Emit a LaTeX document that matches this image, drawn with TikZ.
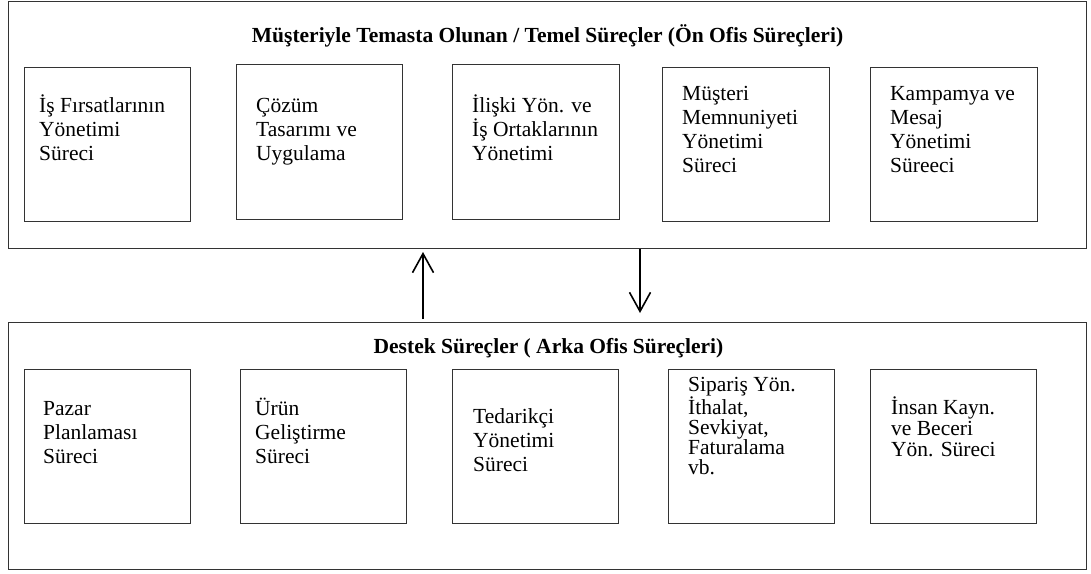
\documentclass[tikz,border=0pt]{standalone}
\usepackage{fontspec}
\setmainfont{Liberation Serif}
\usetikzlibrary{arrows.meta}

\newcommand{\boxtext}[2][24]{\parbox[t]{160pt}{\raggedright\fontsize{21.5}{#1}\selectfont #2}}

\tikzset{
  framebox/.style={draw=black!80, line width=1pt, anchor=north west, inner sep=0pt},
  procbox/.style={draw=black!80, line width=1pt, anchor=north west, inner sep=0pt,
                  minimum width=166pt, minimum height=154pt},
  boxlabel/.style={anchor=base west, inner sep=0pt},
  grouptitle/.style={anchor=base, inner sep=0pt, font=\fontsize{21.5}{24}\selectfont\bfseries},
  flow/.style={line width=1.6pt, -{Straight Barb[length=19pt, width=21pt, line width=1.6pt]}}
}

\begin{document}
\begin{tikzpicture}[x=1pt, y=-1pt]
\useasboundingbox (0,0) rectangle (1091,573);
\fill[white] (0,0) rectangle (1091,573);

% front-office group
\node[framebox, minimum width=1078pt, minimum height=247pt] (front) at (8,1) {};
\node[grouptitle] (fronttitle) at ([shift={(0,41)}]front.north)
  {Müşteriyle Temasta Olunan / Temel Süreçler (Ön Ofis Süreçleri)};

\node[procbox] (f1) at (24,67) {};
\node[procbox, minimum height=155pt] (f2) at (236,64) {};
\node[procbox, minimum width=167pt, minimum height=155pt] (f3) at (452,64) {};
\node[procbox, minimum width=167pt] (f4) at (662,67) {};
\node[procbox, minimum width=167pt] (f5) at (870,67) {};

\node[boxlabel] (f1t) at ([shift={(15,45)}]f1.north west) {\boxtext{İş Fırsatlarının\\Yönetimi\\Süreci}};
\node[boxlabel] (f2t) at ([shift={(20,48)}]f2.north west) {\boxtext{Çözüm\\Tasarımı ve\\Uygulama}};
\node[boxlabel] (f3t) at ([shift={(20,48)}]f3.north west) {\boxtext{İlişki Yön. ve\\İş Ortaklarının\\Yönetimi}};
\node[boxlabel] (f4t) at ([shift={(20,33)}]f4.north west) {\boxtext{Müşteri\\Memnuniyeti\\Yönetimi\\Süreci}};
\node[boxlabel] (f5t) at ([shift={(20,33)}]f5.north west) {\boxtext{Kampamya ve\\Mesaj\\Yönetimi\\Süreeci}};

% back-office group
\node[framebox, minimum width=1078pt, minimum height=247pt] (back) at (8,322) {};
\node[grouptitle] (backtitle) at ([shift={(1,31)}]back.north)
  {Destek Süreçler ( Arka Ofis Süreçleri)};

\node[procbox] (b1) at (24,369) {};
\node[procbox] (b2) at (240,369) {};
\node[procbox] (b3) at (452,369) {};
\node[procbox] (b4) at (668,369) {};
\node[procbox] (b5) at (870,369) {};

\node[boxlabel] (b1t) at ([shift={(19,46)}]b1.north west) {\boxtext{Pazar\\Planlaması\\Süreci}};
\node[boxlabel] (b2t) at ([shift={(15,46)}]b2.north west) {\boxtext{Ürün\\Geliştirme\\Süreci}};
\node[boxlabel] (b3t) at ([shift={(21,54)}]b3.north west) {\boxtext{Tedarikçi\\Yönetimi\\Süreci}};
\node[boxlabel] (b4t) at ([shift={(20,22)}]b4.north west) {\boxtext[20]{Sipariş Yön.\\İthalat,\\Sevkiyat,\\Faturalama\\vb.}};
\node[boxlabel] (b5t) at ([shift={(21,45)}]b5.north west) {\boxtext[21]{İnsan Kayn.\\ve Beceri\\Yön. Süreci}};

% exchange between the two groups
\coordinate (upx) at (423,0);
\coordinate (downx) at (640,0);
\draw[flow, shorten <=3pt, shorten >=3pt] (back.north -| upx) -- (front.south -| upx);
\draw[flow, shorten >=9pt] (front.south -| downx) -- (back.north -| downx);
\end{tikzpicture}
\end{document}
